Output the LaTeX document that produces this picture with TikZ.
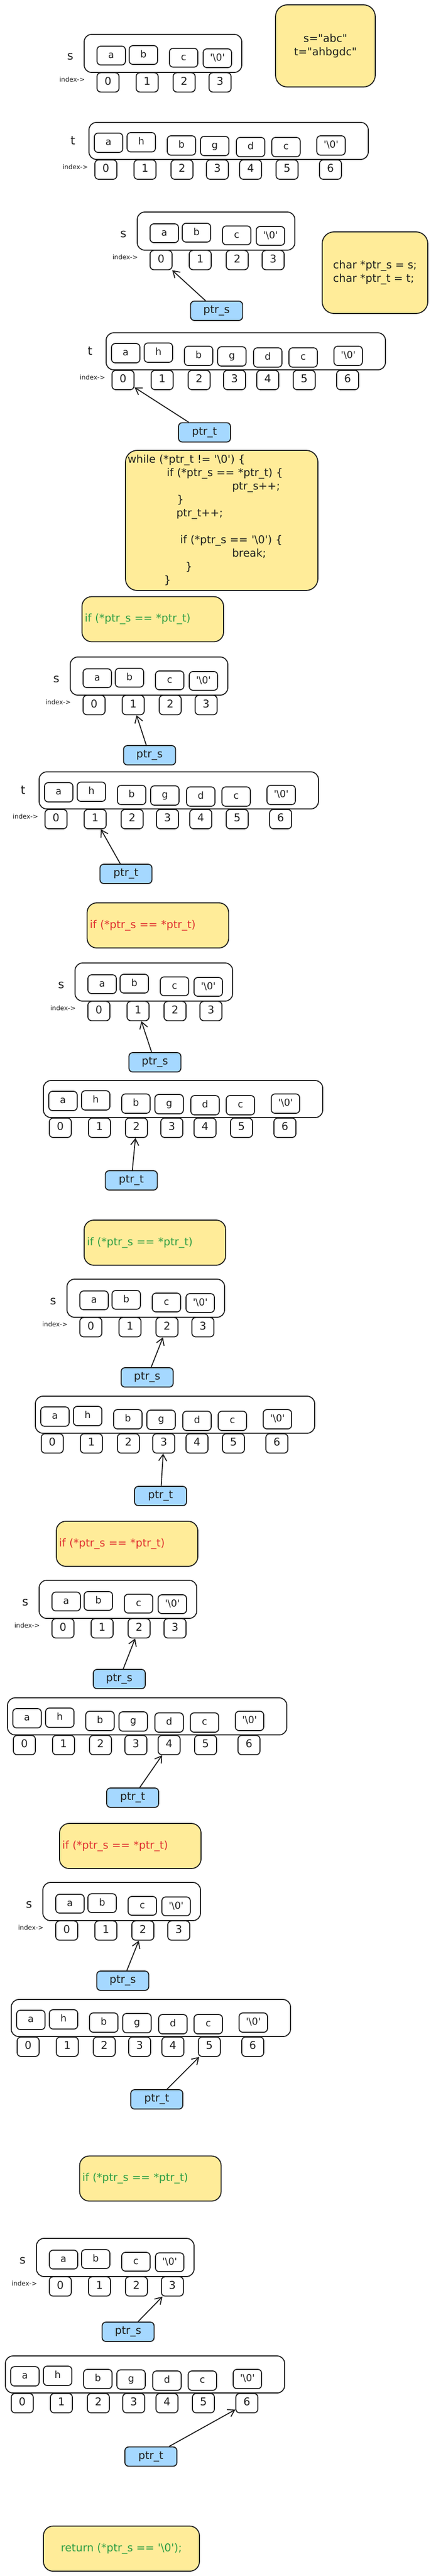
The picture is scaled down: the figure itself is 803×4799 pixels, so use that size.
\documentclass[tikz,border=0pt]{standalone}
\usepackage{fontspec}
\newfontfamily\handfont{DejaVu Sans}
\usetikzlibrary{arrows.meta}
\definecolor{ink}{HTML}{1E1E1E}
\definecolor{noteyellow}{HTML}{FFEC99}
\definecolor{ptrblue}{HTML}{A5D8FF}
\definecolor{okgreen}{HTML}{2F9E44}
\definecolor{badred}{HTML}{E03131}
\newcommand{\nulch}{\textquotesingle\textbackslash0\textquotesingle}

\begin{document}
\begin{tikzpicture}[x=1pt, y=-1pt, line width=1.8pt, color=ink,
    >={Straight Barb[length=12pt,width=15pt]},
    arrbox/.style={draw, rounded corners=14pt, inner sep=0pt},
    cell/.style={draw, rounded corners=7pt, minimum width=53pt, minimum height=35pt, inner sep=0pt,
      text height=13pt, text depth=4pt, font=\handfont\fontsize{18}{22}\selectfont},
    icell/.style={cell, minimum width=41pt, minimum height=36pt, font=\handfont\fontsize{20}{24}\selectfont},
    varlbl/.style={inner sep=0pt, font=\handfont\fontsize{22}{26}\selectfont},
    idxlbl/.style={inner sep=0pt, anchor=east, font=\handfont\fontsize{12}{14}\selectfont},
    ptr/.style={draw, fill=ptrblue, rounded corners=7pt, minimum width=97pt, minimum height=36pt,
      inner sep=0pt, font=\handfont\fontsize{20}{24}\selectfont},
    note/.style={draw, fill=noteyellow, rounded corners=22pt, inner sep=5pt, font=\handfont\fontsize{20}{25}\selectfont},
    cond/.style={note, rounded corners=18pt, minimum width=264pt, minimum height=84pt, text width=254pt, align=left}]
    \useasboundingbox (0,0) rectangle (803,4799);

    \foreach \k/\X/\Y in {0/157/64, 1/256/395, 2/131/1224, 3/140/1794, 4/125/2383, 5/73/2944, 6/80/3507, 7/68/4170} {
        \node[arrbox, minimum width=294pt, minimum height=71pt] (s\k) at ({\X+147},{\Y+35.5}) {};
        \node[varlbl] (s\k-lbl) at ({\X-26},{\Y+41}) {s};
        \node[idxlbl] (s\k-idx) at ({\X+2},{\Y+84}) {index->};
        \foreach \ch/\dx/\dy [count=\i from 0] in {a/24/22, b/84/21, c/159/26, \nulch/222/27}
            \node[cell] (s\k-c\i) at ({\X+\dx+26.5},{\Y+\dy+17.5}) {\ch};
        \foreach \dx [count=\i from 0] in {24,97,166,233}
            \node[icell] (s\k-i\i) at ({\X+\dx+20.5},{\Y+89.5}) {\i};
    }

    \foreach \k/\X/\Y in {0/166/228, 1/198/620, 2/73/1438, 3/81/2013, 4/66/2601, 5/14/3163, 6/21/3725, 7/10/4389} {
        \node[arrbox, minimum width=521pt, minimum height=69pt] (t\k) at ({\X+260.5},{\Y+34.5}) {};
        \foreach \ch/\dx/\dy [count=\i from 0] in {a/10/20, h/71/19, b/146/25, g/208/26, d/275/28, c/341/28, \nulch/425/25}
            \node[cell, minimum height=36pt] (t\k-c\i) at ({\X+\dx+26.5},{\Y+\dy+18}) {\ch};
        \foreach \dx [count=\i from 0] in {11,84,153,219,281,349,430}
            \node[icell] (t\k-i\i) at ({\X+\dx+20.5},{\Y+88}) {\i};
    }
    \foreach \k/\X/\Y in {0/166/228, 1/198/620, 2/73/1438} {
        \node[varlbl] (t\k-lbl) at ({\X-30},{\Y+34}) {t};
        \node[idxlbl] (t\k-idx) at ({\X-1},{\Y+83}) {index->};
    }

    \foreach \k/\sx/\sy/\si/\tx/\ty/\ti in {1/404/579/0/381.5/805.5/0, 2/279/1407/1/235/1628/1,
        3/289/1979/1/245/2199/2, 4/274.5/2566/2/299.5/2787/3, 5/222.5/3128/2/247.5/3349/4,
        6/229/3690/2/292.5/3911/5, 7/239/4344/3/281.5/4576.5/6} {
        \node[ptr] (ps\k) at (\sx,\sy) {ptr\_s};
        \node[ptr] (pt\k) at (\tx,\ty) {ptr\_t};
        \draw[->] (ps\k) -- (s\k-i\si);
        \draw[->] (pt\k) -- (t\k-i\ti);
    }

    \node[note, minimum width=186pt, minimum height=153pt, align=center] (given) at (607,85.5) {s="abc"\\t="ahbgdc"};
    \node[note, minimum width=197pt, minimum height=152pt, align=left] (init) at (699.5,508) {char *ptr\_s = s;\\char *ptr\_t = t;};

    \node[note, minimum width=359pt, minimum height=261pt, text width=351pt, inner sep=4pt, align=left] (loop) at (413.5,969.5) {%
        while (*ptr\_t != \nulch) \{\\
        \hspace*{73pt}if (*ptr\_s == *ptr\_t) \{\\
        \hspace*{195pt}ptr\_s++;\\
        \hspace*{92pt}\}\\
        \hspace*{91pt}ptr\_t++;\\
        \mbox{}\\
        \hspace*{98pt}if (*ptr\_s == \nulch) \{\\
        \hspace*{195pt}break;\\
        \hspace*{108pt}\}\\
        \hspace*{68pt}\}};

    \node[cond, text=okgreen] (chk1) at (285,1153.5) {if (*ptr\_s == *ptr\_t)};
    \node[cond, text=badred] (chk2) at (294.5,1724) {if (*ptr\_s == *ptr\_t)};
    \node[cond, text=okgreen] (chk3) at (289,2315) {if (*ptr\_s == *ptr\_t)};
    \node[cond, text=badred] (chk4) at (237,2876) {if (*ptr\_s == *ptr\_t)};
    \node[cond, text=badred] (chk5) at (243,3439) {if (*ptr\_s == *ptr\_t)};
    \node[cond, text=okgreen] (chk6) at (280.5,4058.5) {if (*ptr\_s == *ptr\_t)};

    \node[note, rounded corners=18pt, minimum width=291pt, minimum height=84pt, text=okgreen] (ret) at (226.5,4748) {return (*ptr\_s == \nulch);};
\end{tikzpicture}
\end{document}
